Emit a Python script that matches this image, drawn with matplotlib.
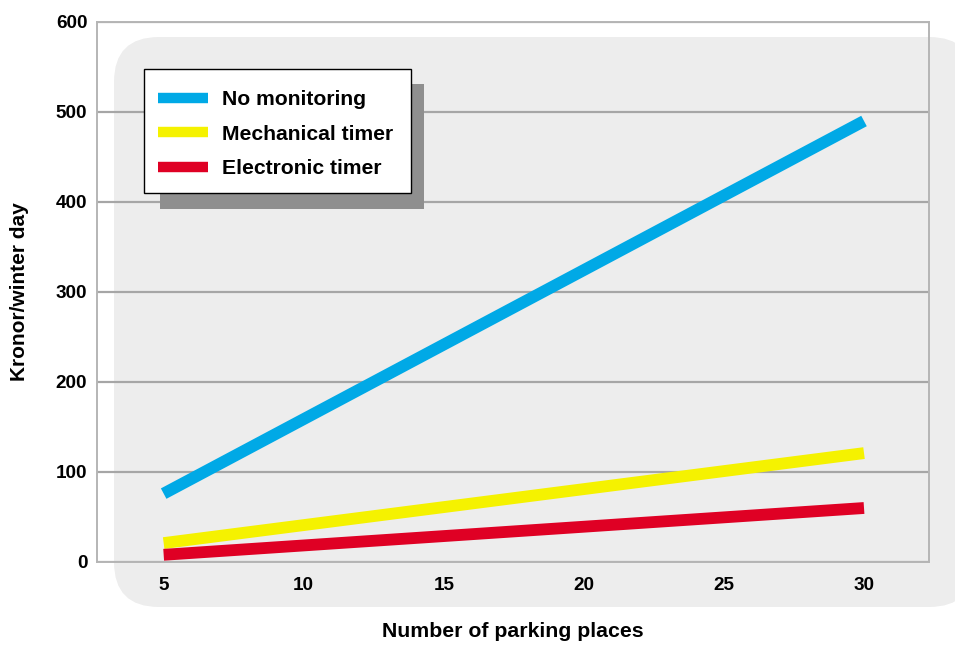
import matplotlib
matplotlib.use("Agg")
import matplotlib.pyplot as plt
from matplotlib.patches import FancyBboxPatch, Rectangle
from matplotlib.transforms import IdentityTransform

plt.rcParams['font.family'] = ['Liberation Sans', 'DejaVu Sans']
plt.rcParams['font.weight'] = 'bold'

# data
places = [5, 30]
no_monitoring = [76, 490]
mechanical = [21, 121]
electronic = [8, 60]
series_names = ["No monitoring", "Mechanical timer", "Electronic timer"]
colors = ['#00A9E6', '#F5F200', '#DF0024']
xticks = [5, 10, 15, 20, 25, 30]
yticks = [0, 100, 200, 300, 400, 500, 600]

W, H = 955, 645
fig = plt.figure(figsize=(W / 100, H / 100), dpi=100)
ax = fig.add_axes([97 / W, 83 / H, 832 / W, 540 / H])
ax.set_facecolor('none')

# rounded grey panel behind the plot (pixel coords)
bg = FancyBboxPatch((114, 38), 860, 570, boxstyle="round,pad=0,rounding_size=45",
                    transform=IdentityTransform(), facecolor='#EDEDED',
                    edgecolor='none', zorder=-1)
fig.patches.append(bg)

for vals, name, c in zip([no_monitoring, mechanical, electronic], series_names, colors):
    ax.plot(places, vals, color=c, linewidth=8.5, solid_capstyle='butt',
            label=name, zorder=3)

ax.set_xlim(2.62, 32.32)
ax.set_ylim(0, 600)
ax.set_xticks(xticks)
ax.set_yticks(yticks)
ax.tick_params(length=0, labelsize=13.6)
ax.tick_params(axis='y', pad=7)
ax.tick_params(axis='x', pad=11)
ax.grid(axis='y', color='#A6A6A6', linewidth=1.6, zorder=1)
ax.set_axisbelow(True)
for s in ax.spines.values():
    s.set_color('#B5B5B5')
    s.set_linewidth(1.4)

ax.set_xlabel("Number of parking places", fontsize=15.3, fontweight='bold', labelpad=20)
ax.set_ylabel("Kronor/winter day", fontsize=15, fontweight='bold', labelpad=19)

# legend box with its drop shadow
ax.add_artist(Rectangle((160, 436), 264, 125, transform=IdentityTransform(),
                        facecolor='#8F8F8F', edgecolor='none', zorder=4))
ax.add_artist(Rectangle((144, 452), 267, 124, transform=IdentityTransform(),
                        facecolor='white', edgecolor='black', linewidth=1.0, zorder=4.5))
leg = ax.legend(loc='upper left', bbox_to_anchor=(158, 645 - 90),
                bbox_transform=IdentityTransform(), frameon=False, borderpad=0,
                fontsize=15.2, handlelength=2.35, handletextpad=0.7, labelspacing=0.74,
                borderaxespad=0)
leg.set_zorder(5)
for line in leg.get_lines():
    line.set_linewidth(7.5)

fig.savefig("out.png", dpi=100)
